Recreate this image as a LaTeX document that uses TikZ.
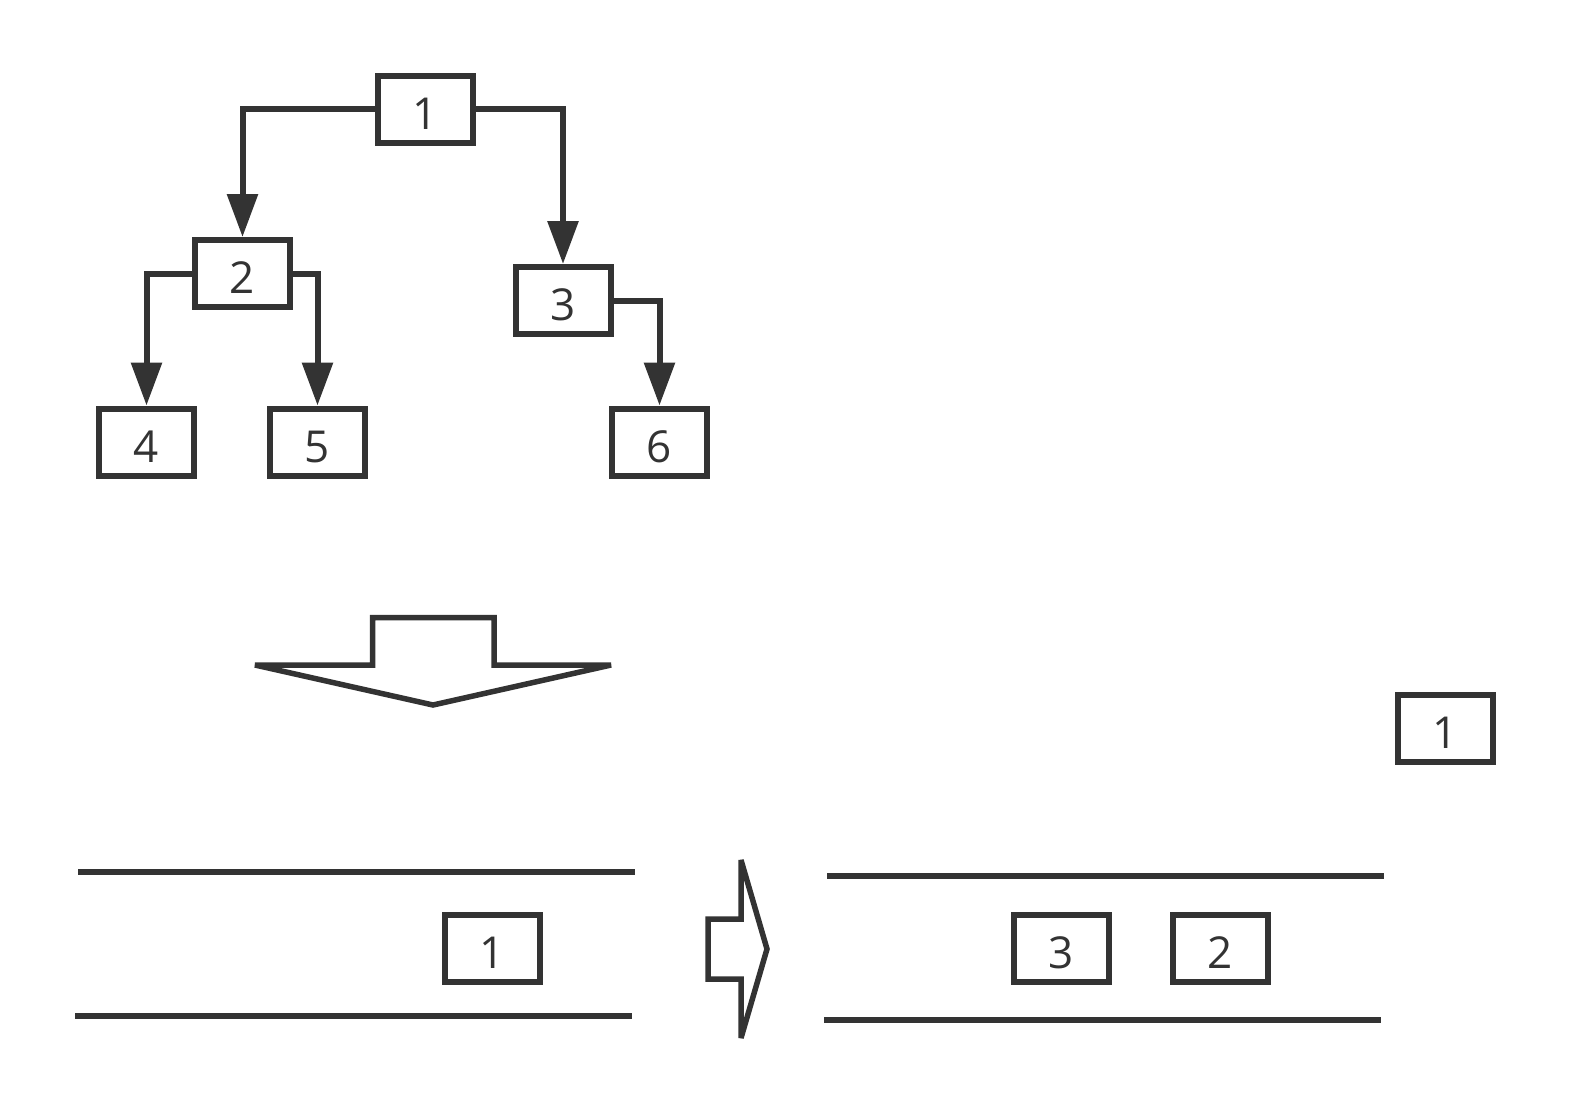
\documentclass[tikz,border=0pt]{standalone}
\usepackage{fontspec}
\setmainfont{Open Sans}
\usetikzlibrary{arrows.meta}
\definecolor{ink}{HTML}{333333}
\tikzset{
  box/.style={draw=ink, line width=6pt, fill=white, minimum width=95pt, minimum height=67pt,
    inner sep=0pt, text=ink, font=\fontsize{44}{44}\selectfont, text height=40pt, text depth=0pt},
  conn/.style={draw=ink, line width=6pt, -{Triangle[length=43pt,width=30pt]}},
  rail/.style={draw=ink, line width=6pt},
  bigarrow/.style={draw=ink, line width=5.5pt, line join=miter, miter limit=2, fill=white}
}
\begin{document}
\begin{tikzpicture}[x=1pt,y=-1pt]
\useasboundingbox (0,0) rectangle (1569,1114);
% tree
\node[box] (n1) at (425.5,109) {1};
\node[box] (n2) at (242.5,273.5) {2};
\node[box] (n3) at (563,300.5) {3};
\node[box] (n4) at (146.5,442) {4};
\node[box] (n5) at (317.5,442) {5};
\node[box] (n6) at (659.5,442) {6};
\draw[conn] (n1.west) -| (n2.north);
\draw[conn] (n1.east) -| (n3.north);
\draw[conn] (n2.west) -| (n4.north);
\draw[conn] (n2.east) -| (n5.north);
\draw[conn] (n3.east) -| (n6.north);
% big down arrow
\draw[bigarrow] (255,665) -- (372.5,665) -- (372.5,617.5) -- (494,617.5) -- (494,665) -- (611,665) -- (433,705) -- cycle;
% left queue
\coordinate (lt1) at (78,872); \coordinate (lt2) at (635,872);
\coordinate (lb1) at (75,1016); \coordinate (lb2) at (632,1016);
\draw[rail] (lt1) -- (lt2);
\draw[rail] (lb1) -- (lb2);
\node[box] (q1) at (492,948.5) {1};
% right arrow
\draw[bigarrow] (741,860) -- (741,919) -- (708,919) -- (708,979) -- (741,979) -- (741,1038) -- (767,949) -- cycle;
% right queue
\coordinate (rt1) at (827,876); \coordinate (rt2) at (1384,876);
\coordinate (rb1) at (824,1020); \coordinate (rb2) at (1381,1020);
\draw[rail] (rt1) -- (rt2);
\draw[rail] (rb1) -- (rb2);
\node[box] (r3) at (1061,948.5) {3};
\node[box] (r2) at (1220,948.5) {2};
\node[box] (out1) at (1445,728) {1};
\end{tikzpicture}
\end{document}
